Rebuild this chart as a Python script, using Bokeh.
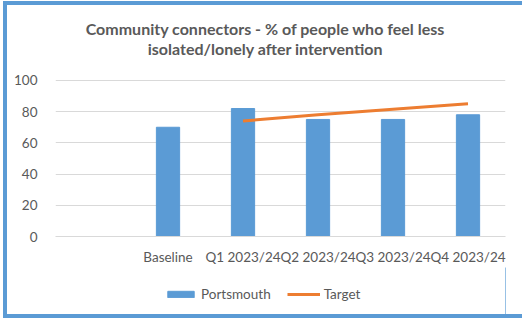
from bokeh.plotting import figure
from bokeh.layouts import column
from bokeh.models import Legend, LegendItem, Label
from bokeh.embed import file_html
from bokeh.resources import INLINE

categories = [" ", "Baseline", "Q1 2023/24", "Q2 2023/24", "Q3 2023/24", "Q4 2023/24"]
bar_cats = ["Baseline", "Q1 2023/24", "Q2 2023/24", "Q3 2023/24", "Q4 2023/24"]
portsmouth = [70, 82, 75, 75, 78]
target_cats = ["Q1 2023/24", "Q2 2023/24", "Q3 2023/24", "Q4 2023/24"]
target = [74, 78, 81.5, 85]
y_ticks = [0, 20, 40, 60, 80, 100]
title_lines = ["Community connectors - % of people who feel less",
               "isolated/lonely after intervention"]
series_names = ["Portsmouth", "Target"]

FONT = "Lato"
TXT = "#595959"
BLUE = "#5B9BD5"
ORANGE = "#ED7D31"
W = 515

# title block (its frame is aligned with the chart frame by the column layout)
tf = figure(width=W, height=66, x_range=(0, 1), y_range=(0, 1),
            output_backend="svg", toolbar_location=None,
            x_axis_location=None, y_axis_location=None,
            min_border=0, outline_line_color=None)
tf.grid.grid_line_color = None
for txt, ypos in zip(title_lines, [43, 23]):
    tf.add_layout(Label(x=210, y=ypos, x_units="screen", y_units="screen", text=txt,
                        text_align="center", text_baseline="middle",
                        text_font=FONT, text_font_size="16px", text_font_style="bold",
                        text_color=TXT))

# main chart
p = figure(width=W, height=196, x_range=categories, y_range=(0, 100.6),
           output_backend="svg", toolbar_location=None,
           min_border_left=48, min_border_right=17, min_border_top=8, min_border_bottom=30)

p.vbar(x=bar_cats, top=portsmouth, width=0.31, color=BLUE)
p.line(x=target_cats, y=target, line_color=ORANGE, line_width=3)

p.outline_line_color = None
p.xgrid.grid_line_color = None
p.ygrid.grid_line_color = "#D9D9D9"
p.yaxis.ticker = y_ticks
p.yaxis.axis_line_color = None
p.yaxis.major_tick_line_color = None
p.yaxis.minor_tick_line_color = None
p.yaxis.major_label_standoff = 12
p.xaxis.axis_line_color = "#D9D9D9"
p.xaxis.major_tick_line_color = None
p.xaxis.major_label_standoff = 6
for ax in (p.xaxis, p.yaxis):
    ax.major_label_text_font = FONT
    ax.major_label_text_font_size = "13.5px"
    ax.major_label_text_color = TXT

# legend block
leg = figure(width=W, height=47, x_range=(0, 1), y_range=(0, 1),
             output_backend="svg", toolbar_location=None,
             x_axis_location=None, y_axis_location=None,
             min_border=0, outline_line_color=None)
leg.grid.grid_line_color = None
lb = leg.vbar(x=[5], top=[1], width=0.1, color=BLUE)
ll = leg.line(x=[5, 6], y=[0.5, 0.5], line_color=ORANGE, line_width=3)
legend = Legend(items=[LegendItem(label=series_names[0], renderers=[lb]),
                       LegendItem(label=series_names[1], renderers=[ll])],
                orientation="horizontal", location=(109, 12),
                label_text_font=FONT, label_text_font_size="13.5px", label_text_color=TXT,
                glyph_width=33, glyph_height=8, border_line_color=None,
                background_fill_alpha=0, spacing=16, padding=2, margin=0,
                label_standoff=4)
leg.add_layout(legend, "center")

layout = column(tf, p, leg, spacing=0,
                styles={"margin-left": "7px", "margin-top": "5px",
                        "outline": f"4px solid {BLUE}"})

open("out.html", "w").write(file_html(layout, INLINE))
